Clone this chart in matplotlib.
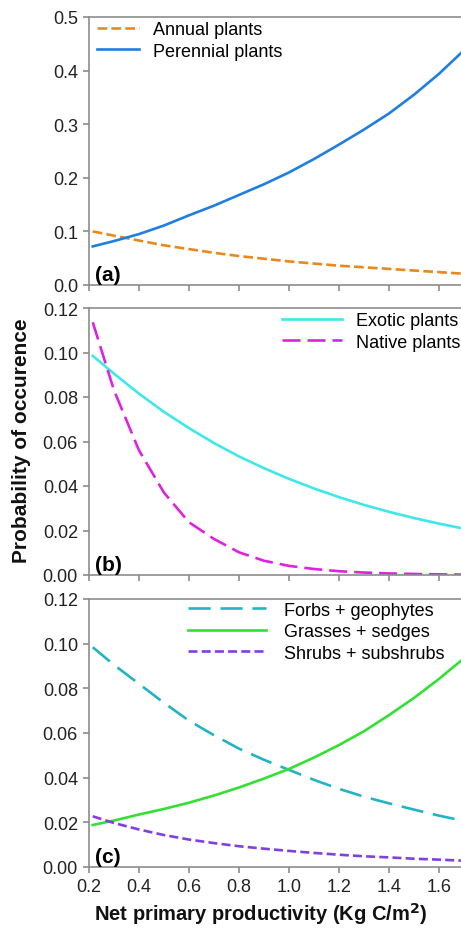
import numpy as np
import matplotlib
matplotlib.use("Agg")
from matplotlib import pyplot as plt

plt.rcParams['font.family'] = ['Liberation Sans', 'DejaVu Sans']
plt.rcParams['lines.scale_dashes'] = False

# productivity values (Kg C/m2) where the curves were read
npp = [0.215, 0.3, 0.4, 0.5, 0.6, 0.7, 0.8, 0.9, 1.0, 1.1, 1.2, 1.3, 1.4, 1.5, 1.6, 1.7]

# (a) life span
annual = [0.100, 0.092, 0.083, 0.074, 0.067, 0.060, 0.054, 0.049, 0.044, 0.040,
          0.036, 0.033, 0.030, 0.027, 0.024, 0.021]
perennial = [0.072, 0.082, 0.095, 0.111, 0.130, 0.148, 0.168, 0.188, 0.210, 0.235,
             0.262, 0.290, 0.320, 0.355, 0.394, 0.438]

# (b) origin
exotic = [0.0985, 0.0905, 0.0815, 0.0733, 0.066, 0.0593, 0.0533, 0.048, 0.0432, 0.0389,
          0.035, 0.0315, 0.0284, 0.0256, 0.0231, 0.0208]
native = [0.1136, 0.083, 0.056, 0.037, 0.0237, 0.0162, 0.0102, 0.0064, 0.0041, 0.0027,
          0.0017, 0.0011, 0.0007, 0.00047, 0.0003, 0.0002]

# (c) growth form
forbs = [0.0984, 0.0905, 0.082, 0.0735, 0.0655, 0.059, 0.053, 0.048, 0.0435, 0.039,
         0.035, 0.0315, 0.0285, 0.0257, 0.023, 0.0206]
grasses = [0.0188, 0.0208, 0.0235, 0.026, 0.0288, 0.032, 0.0356, 0.0396, 0.0439, 0.049,
           0.0546, 0.0608, 0.068, 0.0757, 0.0842, 0.0935]
shrubs = [0.0227, 0.0197, 0.0168, 0.0143, 0.0123, 0.0107, 0.0093, 0.0082, 0.0072, 0.0063,
          0.0055, 0.0048, 0.0043, 0.0037, 0.0033, 0.0028]

x_ticks = [0.2, 0.4, 0.6, 0.8, 1.0, 1.2, 1.4, 1.6]

W, H = 461, 929
fig = plt.figure(figsize=(W / 100, H / 100), dpi=100)

def px_axes(top, bottom):
    # axes run on past the right edge, the source figure is cropped there
    return fig.add_axes([89 / W, 1 - bottom / H, 400 / W, (bottom - top) / H])

gray = '#8c8c8c'
fs = 13

def style(ax, ymax, ystep, fmt, show_x):
    ax.set_xlim(0.2, 1.8)
    ax.set_ylim(0, ymax)
    ax.set_xticks(x_ticks)
    ax.set_yticks(np.arange(0, ymax + 1e-9, ystep))
    ax.set_yticklabels([fmt % v for v in np.arange(0, ymax + 1e-9, ystep)])
    for s in ['left', 'top', 'bottom', 'right']:
        ax.spines[s].set_color(gray)
        ax.spines[s].set_linewidth(1.2)
    ax.tick_params(direction='out', length=4, width=1.2, color=gray,
                   labelsize=fs, labelcolor='#222222', pad=4)
    if not show_x:
        ax.set_xticklabels([])
    else:
        ax.set_xticklabels(['%.1f' % v for v in x_ticks])

lw = 1.9

ax1 = px_axes(18, 286)
ax1.plot(npp, annual, color='#e8891c', lw=lw, dashes=(7, 3), label='Annual plants')
ax1.plot(npp, perennial, color='#1f7fe0', lw=lw, label='Perennial plants')
style(ax1, 0.5, 0.1, '%.1f', False)
ax1.legend(loc='upper left', bbox_to_anchor=(0.02, 0.985), frameon=False, fontsize=fs,
           handlelength=2.3, handletextpad=0.8, borderpad=0, borderaxespad=0,
           labelspacing=0.25)
ax1.text(0.015, 0.02, '(a)', transform=ax1.transAxes, fontsize=15, fontweight='bold')

ax2 = px_axes(309, 576)
ax2.plot(npp, exotic, color='#3ee8ea', lw=lw, label='Exotic plants')
ax2.plot(npp, native, color='#df22df', lw=lw, dashes=(13, 5), label='Native plants')
style(ax2, 0.12, 0.02, '%.2f', False)
ax2.legend(loc='upper left', bbox_to_anchor=(0.4825, 0.985), frameon=False, fontsize=fs,
           handlelength=3.3, handletextpad=0.8, borderpad=0, borderaxespad=0,
           labelspacing=0.25)
ax2.text(0.015, 0.02, '(b)', transform=ax2.transAxes, fontsize=15, fontweight='bold')

ax3 = px_axes(600, 868)
ax3.plot(npp, forbs, color='#22b4c4', lw=lw, dashes=(16, 7), label='Forbs + geophytes')
ax3.plot(npp, grasses, color='#33e033', lw=lw, label='Grasses + sedges')
ax3.plot(npp, shrubs, color='#8040e0', lw=lw, dashes=(6.5, 3), label='Shrubs + subshrubs')
style(ax3, 0.12, 0.02, '%.2f', True)
ax3.legend(loc='upper left', bbox_to_anchor=(0.2475, 0.99), frameon=False, fontsize=fs,
           handlelength=4.3, handletextpad=1.0, borderpad=0, borderaxespad=0,
           labelspacing=0.25)
ax3.text(0.015, 0.02, '(c)', transform=ax3.transAxes, fontsize=15, fontweight='bold')

fig.text(22 / W, 1 - 441 / H, 'Probability of occurence', rotation=90, ha='center',
         va='center', fontsize=15, fontweight='bold', color='#111111')
fig.text(261 / W, 1 - 914 / H, 'Net primary productivity (Kg C/m$^\\mathbf{2}$)',
         ha='center', va='center', fontsize=14.5, fontweight='bold', color='#111111')

fig.savefig('out.png', dpi=100)
